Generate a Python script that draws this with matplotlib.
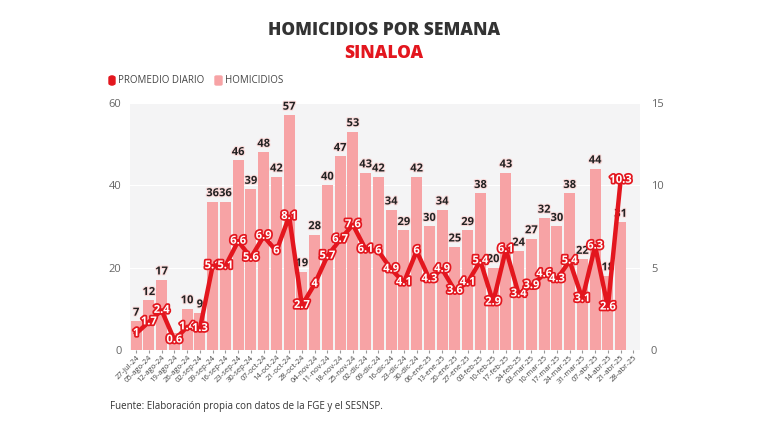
import matplotlib
matplotlib.use("Agg")
import matplotlib.pyplot as plt
import matplotlib.patheffects as pe
from matplotlib.patches import FancyBboxPatch
import numpy as np

plt.rcParams['font.family'] = ['Open Sans', 'DejaVu Sans']

weeks = ["27-jul-24", "05-ago-24", "12-ago-24", "19-ago-24", "26-ago-24", "02-sep-24",
         "09-sep-24", "16-sep-24", "23-sep-24", "30-sep-24", "07-oct-24", "14-oct-24",
         "21-oct-24", "28-oct-24", "04-nov-24", "11-nov-24", "18-nov-24", "25-nov-24",
         "02-dic-24", "09-dic-24", "16-dic-24", "23-dic-24", "30-dic-24", "06-ene-25",
         "13-ene-25", "20-ene-25", "27-ene-25", "03-feb-25", "10-feb-25", "17-feb-25",
         "24-feb-25", "03-mar-25", "10-mar-25", "17-mar-25", "24-mar-25", "31-mar-25",
         "07-abr-25", "14-abr-25", "21-abr-25", "28-abr-25"]
homicidios = [7, 12, 17, 4, 10, 9, 36, 36, 46, 39, 48, 42, 57, 19, 28, 40, 47, 53, 43, 42,
              34, 29, 42, 30, 34, 25, 29, 38, 20, 43, 24, 27, 32, 30, 38, 22, 44, 18, 31]
promedio = [1, 1.7, 2.4, 0.6, 1.4, 1.3, 5.1, 5.1, 6.6, 5.6, 6.9, 6, 8.1, 2.7, 4, 5.7, 6.7,
            7.6, 6.1, 6, 4.9, 4.1, 6, 4.3, 4.9, 3.6, 4.1, 5.4, 2.9, 6.1, 3.4, 3.9, 4.6, 4.3,
            5.4, 3.1, 6.3, 2.6, 10.3]

RED = "#e3161e"
PINK = "#f7a3a5"
GREY_BG = "#f4f4f5"

fig = plt.figure(figsize=(7.68, 4.32), dpi=100)
ax = fig.add_axes([0.169, 0.19, 0.664, 0.572])
ax.set_facecolor(GREY_BG)
ax2 = ax.twinx()

x = np.arange(len(homicidios))
ax.bar(x, homicidios, width=0.86, color=PINK, zorder=2)
ax.set_xlim(-0.5, len(weeks) - 0.5)
ax.set_ylim(0, 60)
ax.set_yticks([0, 20, 40, 60])
ax.grid(axis='y', color='white', linewidth=0.8, zorder=1)
ax.set_axisbelow(True)
ax.set_xticks(np.arange(len(weeks)))
ax.set_xticklabels(weeks, rotation=45, ha='right', rotation_mode='anchor', fontsize=5.5, color='#444444')
ax.tick_params(axis='x', length=2, color='#999999', pad=1)
ax.tick_params(axis='y', length=0, labelsize=8, labelcolor='#666666', pad=6)
for s in ax.spines.values():
    s.set_visible(False)

ax2.plot(x, promedio, color=RED, linewidth=3.2, zorder=3, solid_joinstyle='round')
ax2.set_ylim(0, 15)
ax2.set_yticks([0, 5, 10, 15])
ax2.tick_params(axis='y', length=0, labelsize=8, labelcolor='#666666', pad=8)
for s in ax2.spines.values():
    s.set_visible(False)

for xi, v in zip(x, homicidios):
    if v == 4:
        continue
    ax.text(xi, v + 0.6, f"{v}", ha='center', va='bottom', fontsize=8, fontweight='bold',
            color='#222222', zorder=5,
            path_effects=[pe.withStroke(linewidth=1.5, foreground='#fbdada')])

for xi, v in zip(x, promedio):
    lab = f"{v:g}"
    ax2.text(xi, v, lab, ha='center', va='center', fontsize=8, fontweight='bold',
             color='white', zorder=6,
             path_effects=[pe.withStroke(linewidth=2.5, foreground=RED)])

fig.text(0.5, 0.93, "HOMICIDIOS POR SEMANA", ha='center', va='center', fontsize=12.5,
         fontweight='heavy', color='#333333')
fig.text(0.5, 0.875, "SINALOA", ha='center', va='center', fontsize=12.5,
         fontweight='heavy', color=RED)

# legend
fig.patches.append(FancyBboxPatch((109 / 768, 1 - 85 / 432), 6 / 768, 9 / 432,
                                  boxstyle="round,pad=0,rounding_size=0.004",
                                  transform=fig.transFigure, color=RED))
fig.text(118 / 768, 1 - 80.5 / 432, "PROMEDIO DIARIO", ha='left', va='center', fontsize=7,
         color='#444444')
fig.patches.append(FancyBboxPatch((215 / 768, 1 - 85 / 432), 7 / 768, 9 / 432,
                                  boxstyle="round,pad=0,rounding_size=0.002",
                                  transform=fig.transFigure, color=PINK))
fig.text(225 / 768, 1 - 80.5 / 432, "HOMICIDIOS", ha='left', va='center', fontsize=7,
         color='#444444')

fig.text(110 / 768, 1 - 407 / 432, "Fuente: Elaboración propia con datos de la FGE y el SESNSP.",
         ha='left', va='center', fontsize=7, color='#333333')

fig.savefig("out.png", dpi=100, facecolor='white')
